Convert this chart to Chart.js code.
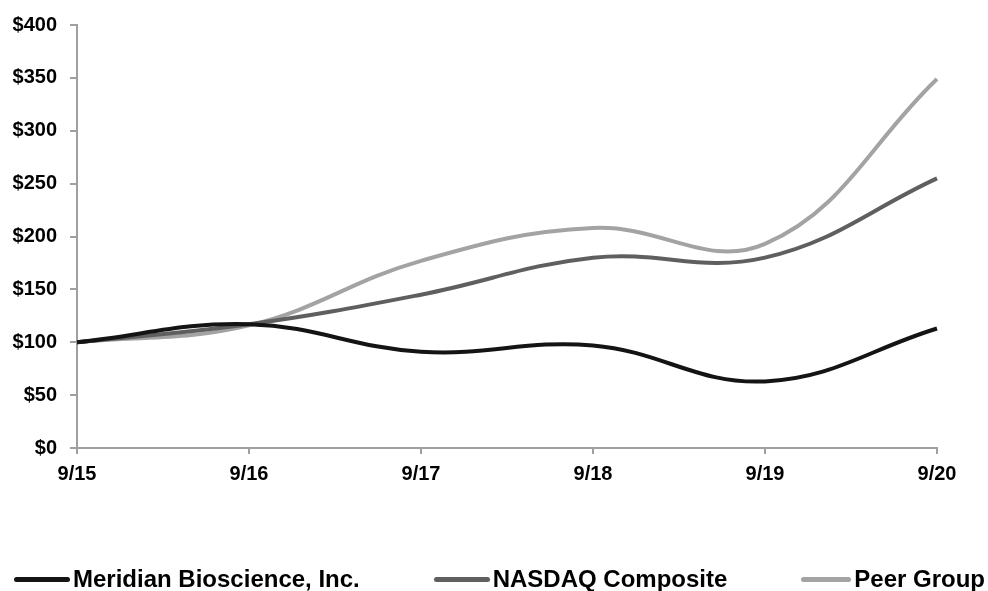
<!DOCTYPE html>
<html>
<head>
<meta charset="utf-8">
<script src="https://cdn.jsdelivr.net/npm/chart.js@4.4.1/dist/chart.umd.min.js"></script>
<style>
  html, body { margin: 0; padding: 0; background: #fff; }
  #wrap { position: relative; width: 988px; height: 591px; }
  #legend {
    position: absolute; left: 14px; right: 3px; top: 566px; height: 26px;
    display: flex; justify-content: space-between; align-items: center;
    font-family: "Liberation Sans", Arial, sans-serif; font-weight: bold; font-size: 24px; color: #000;
  }
  .item { display: flex; align-items: center; white-space: nowrap; }
  .swatch { height: 5px; border-radius: 3px; margin-right: 3px; }
</style>
</head>
<body>
<div id="wrap">
  <canvas id="chart" width="988" height="591"></canvas>
  <div id="legend"></div>
</div>
<script>
// Kümülatif toplam getiri, $100 başlangıç
const periods = ['9/15', '9/16', '9/17', '9/18', '9/19', '9/20'];
const meridian = [100, 117, 91, 97, 63, 113];
const nasdaq = [100, 117, 145, 180, 180, 255];
const peerGroup = [100, 116, 177, 208, 193, 349];
const yTicks = [0, 50, 100, 150, 200, 250, 300, 350, 400];

const seriesNames = ['Meridian Bioscience, Inc.', 'NASDAQ Composite', 'Peer Group'];
const seriesColors = ['#141414', '#5f5f5f', '#a3a3a3'];
const seriesData = [meridian, nasdaq, peerGroup];

const axisColor = '#a0a0a0';
const tickFont = { family: '"Liberation Sans", Arial, sans-serif', size: 20, weight: 'bold' };

const ctx = document.getElementById('chart').getContext('2d');

const chart = new Chart(ctx, {
  type: 'line',
  data: {
    labels: periods,
    datasets: seriesData.map((d, i) => ({
      label: seriesNames[i],
      data: d,
      borderColor: seriesColors[i],
      borderWidth: 4,
      pointRadius: 0,
      tension: 0.4,
      fill: false
    }))
  },
  options: {
    responsive: false,
    animation: false,
    layout: {
      padding: { top: 10, right: 51, bottom: 97, left: 0 }
    },
    plugins: {
      legend: { display: false },
      tooltip: { enabled: false }
    },
    scales: {
      x: {
        offset: false,
        grid: {
          display: true,
          drawOnChartArea: false,
          drawTicks: true,
          tickLength: 6,
          color: axisColor,
          lineWidth: 2
        },
        border: { display: true, color: axisColor, width: 2 },
        ticks: {
          color: '#000',
          font: tickFont,
          padding: 8,
          maxRotation: 0
        }
      },
      y: {
        min: 0,
        max: 400,
        afterBuildTicks: (scale) => {
          scale.ticks = yTicks.map(v => ({ value: v }));
        },
        afterFit: (scale) => {
          scale.width = 77;
        },
        grid: {
          display: true,
          drawOnChartArea: false,
          drawTicks: true,
          tickLength: 7,
          color: axisColor,
          lineWidth: 2
        },
        border: { display: true, color: axisColor, width: 2 },
        ticks: {
          color: '#000',
          font: tickFont,
          padding: 13,
          callback: (v) => '$' + v
        }
      }
    }
  }
});

// Lejant: veri setlerinden oluşturulur
const legendEl = document.getElementById('legend');
chart.data.datasets.forEach((ds, i) => {
  const item = document.createElement('div');
  item.className = 'item';
  const sw = document.createElement('span');
  sw.className = 'swatch';
  sw.style.background = ds.borderColor;
  sw.style.width = (i === 2 ? 50 : 56) + 'px';
  const txt = document.createElement('span');
  txt.textContent = ds.label;
  item.appendChild(sw);
  item.appendChild(txt);
  legendEl.appendChild(item);
});
</script>
</body>
</html>
